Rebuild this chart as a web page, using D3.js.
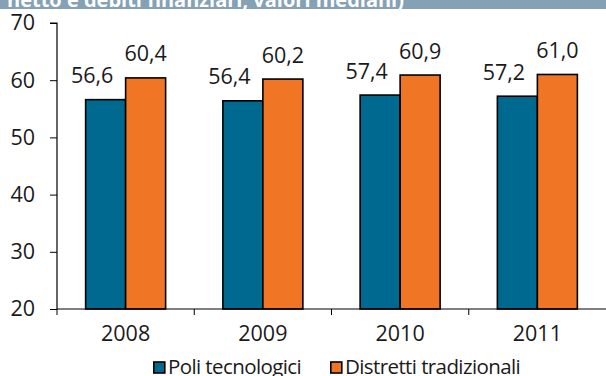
<!DOCTYPE html>
<html><head><meta charset="utf-8">
<script src="https://cdn.jsdelivr.net/npm/d3@7"></script>
<style>
html,body{margin:0;padding:0;background:#fff;}
svg{display:block;font-family:"Open Sans",sans-serif;}
</style></head>
<body><svg id="c" width="606" height="376"></svg>
<script>
const categories = ["2008","2009","2010","2011"];
const seriesNames = ["Poli tecnologici","Distretti tradizionali"];
const poli = [56.6,56.4,57.4,57.2];
const distretti = [60.4,60.2,60.9,61.0];
const yTicks = [20,30,40,50,60,70];
const titleText = "netto e debiti finanziari, valori mediani)";
const colors = ["#00698f","#f07524"];

const svg = d3.select("#c");
const W = 606, H = 376;
const x0 = 57, x1 = 606, yTop = 23, yBot = 309;

svg.append("rect").attr("x",0).attr("y",0).attr("width",W).attr("height",9).attr("fill","#85a1b6");
svg.append("text").attr("x",7).attr("y",7.3).attr("fill","#fff").attr("font-weight","bold")
  .attr("font-size",20).text(titleText);

const x = d3.scaleBand().domain(categories).range([x0,x1]);
const y = d3.scaleLinear().domain([20,70]).range([yBot,yTop]);
const barW = 40;
const xs = d3.scaleBand().domain([0,1]).range([-barW, barW]);

const data = categories.map((c,i)=>({c, vals:[poli[i],distretti[i]]}));

const g = svg.append("g").attr("class","bars");
data.forEach(d=>{
  d.vals.forEach((v,s)=>{
    const bx = x(d.c)+x.bandwidth()/2 + xs(s);
    g.append("rect").attr("x",bx).attr("y",y(v)).attr("width",xs.bandwidth())
      .attr("height",yBot - y(v)).attr("fill",colors[s]).attr("stroke","#000").attr("stroke-width",1.6);
    const lx = bx + xs.bandwidth()/2 + (s===0 ? -13.5 : 0);
    g.append("text").attr("x",lx).attr("y",y(v)-16.5).attr("text-anchor","middle")
      .attr("font-size",21.5).attr("fill","#1a1a1a").text(d3.format(".1f")(v).replace(".",","));
  });
});

// y axis
const yAxis = d3.axisLeft(y).tickValues(yTicks).tickSize(7).tickPadding(15).tickFormat(d3.format("d"));
const ya = svg.append("g").attr("transform",`translate(${x0},0)`).call(yAxis);
ya.select(".domain").attr("d",`M-7,${yTop}H0V${yBot}`).attr("stroke","#000").attr("stroke-width",1.2);
ya.selectAll(".tick line").attr("stroke","#000").attr("stroke-width",1);
ya.selectAll(".tick text").attr("font-size",21.5).attr("font-family","Open Sans").attr("fill","#1a1a1a");

// x axis
const xAxis = d3.axisBottom(x).tickSize(0).tickPadding(17);
const xa = svg.append("g").attr("transform",`translate(0,${yBot})`).call(xAxis);
xa.select(".domain").attr("d",`M${x0},0H${x1}`).attr("stroke","#000").attr("stroke-width",1.2);
xa.selectAll(".tick text").attr("font-size",21.5).attr("font-family","Open Sans").attr("fill","#1a1a1a").attr("dy","0.71em");
const bounds = categories.map(c=>x(c));
xa.selectAll(".sep").data(bounds).join("line").attr("class","sep")
  .attr("x1",d=>d).attr("x2",d=>d).attr("y1",0).attr("y2",6).attr("stroke","#000").attr("stroke-width",1);

// legend
const legX = [153,330];
const leg = svg.append("g");
seriesNames.forEach((n,i)=>{
  leg.append("rect").attr("x",legX[i]+0.8).attr("y",362).attr("width",11).attr("height",11)
    .attr("fill",colors[i]).attr("stroke","#000").attr("stroke-width",1.6);
  leg.append("text").attr("x",legX[i]+15).attr("y",374).attr("font-size",20.5)
    .attr("letter-spacing","-0.6px").attr("fill","#1a1a1a").text(n);
});
</script></body></html>
